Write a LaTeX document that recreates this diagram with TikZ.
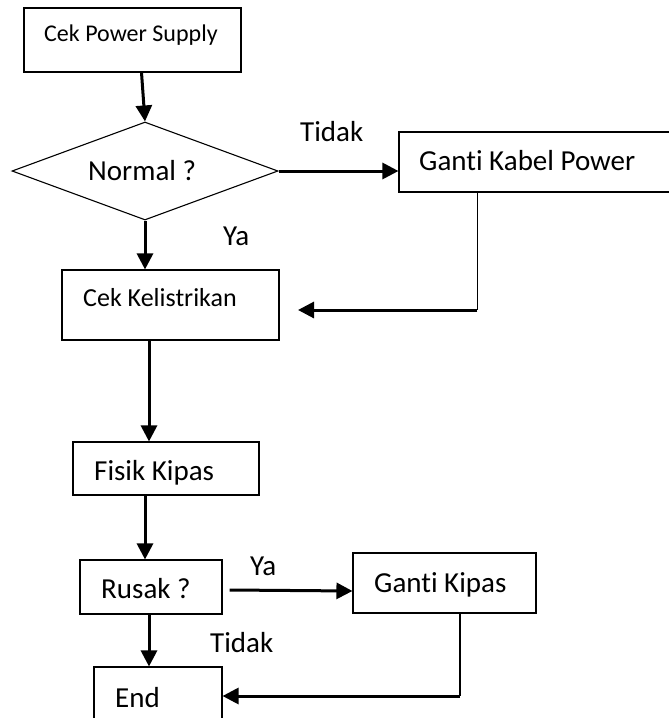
\documentclass[tikz,border=0pt]{standalone}
\usepackage{fontspec}
\setmainfont{Carlito}[Ligatures={NoCommon}]
\usetikzlibrary{arrows.meta,shapes.geometric}

\tikzset{
  box/.style={draw, line width=1.1pt, rectangle, inner sep=0pt},
  decision/.style={draw, line width=1.1pt, diamond, inner sep=0pt},
  txt/.style={inner sep=0pt, anchor=base west, font=\fontsize{29}{34}\selectfont},
  midtxt/.style={txt, font=\fontsize{26}{31}\selectfont},
  smalltxt/.style={txt, font=\fontsize{24}{28}\selectfont},
  flow/.style={line width=3pt, -{Triangle[length=16pt,width=16pt]}},
  thinline/.style={line width=1.1pt},
}

\begin{document}
\begin{tikzpicture}[x=1pt, y=-1pt]
  \useasboundingbox (0,0) rectangle (669,718);
  \clip (0,0) rectangle (669,718);

  % boxes
  \node[box, minimum width=217pt, minimum height=64pt] (cps) at (132.5,40) {};
  \node[decision, minimum width=266pt, minimum height=98pt, aspect=2.714] (norm) at (145,171) {};
  \node[box, minimum width=321pt, minimum height=60pt] (gkp) at (559.5,162) {};
  \node[box, minimum width=217pt, minimum height=70pt] (ck) at (170.5,305) {};
  \node[box, minimum width=186pt, minimum height=53pt] (fk) at (166,468.5) {};
  \node[box, minimum width=142pt, minimum height=54pt] (rusak) at (151,587) {};
  \node[box, minimum width=183pt, minimum height=60pt] (gk) at (444.5,583) {};
  \node[box, minimum width=128pt, minimum height=73pt] (end) at (158,703.5) {};

  % texts
  \node[smalltxt] (cps-t) at (44,41.7) {Cek Power Supply};
  \node[txt] (norm-t) at (88,180) {Normal ?};
  \node[txt] (gkp-t) at (419,170) {Ganti Kabel Power};
  \node[midtxt] (ck-t) at (83,306) {Cek Kelistrikan};
  \node[txt] (fk-t) at (94,480) {Fisik Kipas};
  \node[txt] (rusak-t) at (101,598) {Rusak ?};
  \node[txt] (gk-t) at (374,592) {Ganti Kipas};
  \node[txt] (end-t) at (115,707) {End};

  % branch labels
  \node[txt] (l-tidak1) at (300,141.7) {Tidak};
  \node[txt] (l-ya1) at (223,245) {Ya};
  \node[txt] (l-ya2) at (250,575) {Ya};
  \node[txt] (l-tidak2) at (210,652) {Tidak};

  % connectors
  \draw[flow] ([xshift=9pt]cps.south) -- (norm.north);
  \draw[flow] (norm.south) -- (ck.north -| norm.south);
  \draw[flow] (norm.east) -- (gkp.west |- norm.east);
  \coordinate (back) at (298,310);
  \draw[thinline] ([xshift=79pt]gkp.south west) -- ([xshift=79pt]gkp.south west |- back);
  \draw[flow] ([xshift=79pt]gkp.south west |- back) -- (back);
  \draw[flow] ([xshift=-21.5pt]ck.south) -- ([xshift=-17pt]fk.north);
  \draw[flow] ([xshift=-21pt]fk.south) -- ([xshift=-6pt]rusak.north);
  \draw[flow] ([xshift=7pt,yshift=-3pt]rusak.east) -- ([yshift=-8pt]gk.west);
  \draw[flow] ([xshift=-2pt]rusak.south) -- ([xshift=-9pt]end.north);
  \draw[thinline] ([xshift=15.5pt]gk.south) -- ([xshift=15.5pt,yshift=7.5pt]gk.south |- end.east);
  \draw[flow] ([xshift=15.5pt,yshift=7.5pt]gk.south |- end.east) -- ([yshift=7.5pt]end.east);
\end{tikzpicture}
\end{document}
